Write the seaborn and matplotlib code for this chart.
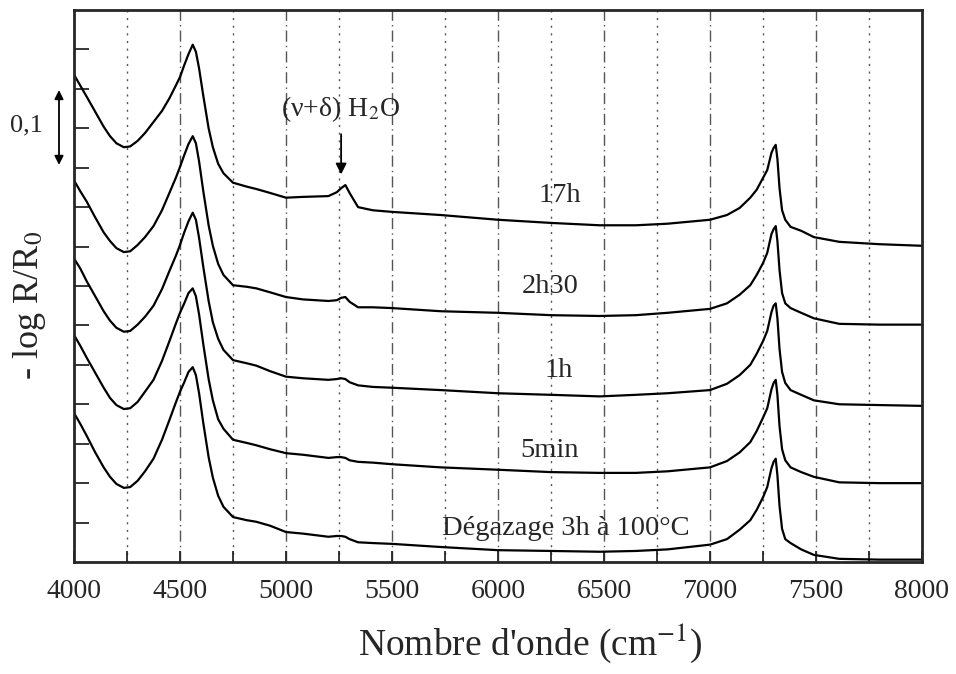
# -*- coding: utf-8 -*-

import numpy as np
import pandas as pd
import matplotlib
matplotlib.use('Agg')
import matplotlib.pyplot as plt
import seaborn as sns


#Plot parameters
sns.set_style('ticks')
plt.rcParams['font.family'] = ['Liberation Serif', 'DejaVu Serif']
plt.rcParams['mathtext.fontset'] = 'stix'


#Data (-log R/R0, curves already offset)
wavenumber = [4000, 4030, 4060, 4100, 4140, 4170, 4200, 4235, 4265, 4300,
              4335, 4375, 4415, 4450, 4480, 4500, 4520, 4540, 4560, 4575,
              4590, 4610, 4635, 4655, 4680, 4705, 4750, 4815, 4860, 4925,
              5000, 5080, 5200, 5240, 5260, 5280, 5300, 5340, 5410, 5500,
              5730, 6000, 6250, 6480, 6650, 6800, 7000, 7080, 7140, 7190,
              7220, 7250, 7270, 7290, 7300, 7310, 7318, 7328, 7340, 7355,
              7380, 7430, 7490, 7610, 7800, 8000]

h17 = [0.618, 0.604, 0.590, 0.571, 0.552, 0.540, 0.531, 0.526, 0.527, 0.534,
       0.544, 0.558, 0.572, 0.588, 0.604, 0.615, 0.630, 0.644, 0.656, 0.647,
       0.626, 0.591, 0.550, 0.526, 0.505, 0.493, 0.481, 0.476, 0.473, 0.468,
       0.462, 0.463, 0.464, 0.469, 0.474, 0.478, 0.468, 0.450, 0.446, 0.444,
       0.440, 0.434, 0.430, 0.427, 0.427, 0.429, 0.434, 0.440, 0.449, 0.462,
       0.472, 0.487, 0.497, 0.519, 0.525, 0.529, 0.511, 0.474, 0.446, 0.434,
       0.425, 0.420, 0.412, 0.406, 0.403, 0.401]

h2_30 = [0.484, 0.470, 0.457, 0.437, 0.418, 0.407, 0.398, 0.393, 0.394, 0.402,
         0.412, 0.426, 0.446, 0.468, 0.487, 0.501, 0.516, 0.530, 0.540, 0.531,
         0.508, 0.470, 0.427, 0.401, 0.378, 0.364, 0.351, 0.349, 0.347, 0.342,
         0.336, 0.333, 0.331, 0.332, 0.335, 0.336, 0.330, 0.323, 0.323, 0.322,
         0.318, 0.316, 0.313, 0.312, 0.313, 0.316, 0.321, 0.328, 0.339, 0.351,
         0.364, 0.379, 0.392, 0.416, 0.422, 0.426, 0.407, 0.370, 0.341, 0.328,
         0.322, 0.316, 0.309, 0.302, 0.301, 0.301]

h1 = [0.385, 0.372, 0.356, 0.337, 0.318, 0.306, 0.297, 0.292, 0.293, 0.301,
      0.311, 0.325, 0.346, 0.369, 0.388, 0.402, 0.418, 0.432, 0.443, 0.434,
      0.411, 0.374, 0.331, 0.304, 0.283, 0.269, 0.256, 0.252, 0.249, 0.242,
      0.235, 0.233, 0.231, 0.232, 0.233, 0.232, 0.228, 0.224, 0.222, 0.221,
      0.218, 0.214, 0.212, 0.210, 0.212, 0.214, 0.218, 0.226, 0.237, 0.250,
      0.264, 0.280, 0.293, 0.317, 0.325, 0.328, 0.309, 0.270, 0.241, 0.227,
      0.218, 0.212, 0.205, 0.200, 0.199, 0.198]

min5 = [0.288, 0.274, 0.259, 0.240, 0.221, 0.208, 0.199, 0.194, 0.195, 0.203,
        0.216, 0.231, 0.255, 0.280, 0.302, 0.316, 0.328, 0.341, 0.347, 0.337,
        0.314, 0.276, 0.232, 0.205, 0.181, 0.169, 0.155, 0.151, 0.148, 0.143,
        0.138, 0.136, 0.132, 0.133, 0.133, 0.132, 0.129, 0.127, 0.126, 0.124,
        0.120, 0.117, 0.114, 0.113, 0.113, 0.115, 0.120, 0.128, 0.139, 0.152,
        0.166, 0.183, 0.195, 0.219, 0.227, 0.231, 0.212, 0.172, 0.143, 0.129,
        0.120, 0.114, 0.108, 0.101, 0.100, 0.100]

degazage = [0.189, 0.175, 0.160, 0.139, 0.120, 0.108, 0.099, 0.094, 0.095, 0.103,
            0.115, 0.131, 0.155, 0.180, 0.202, 0.216, 0.228, 0.241, 0.247, 0.237,
            0.214, 0.176, 0.133, 0.107, 0.084, 0.070, 0.057, 0.053, 0.051, 0.046,
            0.038, 0.036, 0.032, 0.033, 0.033, 0.032, 0.029, 0.025, 0.024, 0.023,
            0.019, 0.015, 0.014, 0.013, 0.014, 0.016, 0.022, 0.029, 0.041, 0.053,
            0.066, 0.082, 0.095, 0.119, 0.127, 0.131, 0.110, 0.071, 0.042, 0.029,
            0.024, 0.016, 0.009, 0.004, 0.003, 0.003]

curves = {'17h': h17, '2h30': h2_30, '1h': h1, '5min': min5,
          'Dégazage 3h à 100°C': degazage}


#Figure
fig = plt.figure(figsize=(9.56, 6.74), dpi=100)
ax = fig.add_axes([74/956, 112/674, 848/956, 552/674])

for name, vals in curves.items():
    sns.lineplot(x=wavenumber, y=vals, color='black', lw=1.6, ax=ax)

ax.set_xlim(4000, 8000)
ax.set_ylim(0, 0.7)
ax.set_xticks(np.arange(4000, 8001, 500))
ax.set_xticks(np.arange(4250, 8000, 500), minor=True)
ax.set_yticks(np.arange(0.05, 0.70, 0.05))
ax.set_yticklabels([])
ax.tick_params(axis='x', which='both', direction='in', length=8, width=1.3,
               labelsize=20, pad=12, top=False)
ax.tick_params(axis='y', direction='in', length=11, width=1.3, right=False)
for sp in ax.spines.values():
    sp.set_linewidth(2)

#grid: dash-dot at 500, dotted at 250
for xv in np.arange(4500, 8000, 500):
    ax.axvline(xv, color='#555555', lw=1.0, ls=(0, (8, 3, 1, 3)), zorder=0)
for xv in np.arange(4250, 8000, 500):
    ax.axvline(xv, color='#555555', lw=1.0, ls=(0, (1.5, 4)), zorder=0)

#curve labels
lab_pos = {'17h': (6290, 0.465), '2h30': (6245, 0.349), '1h': (6285, 0.243),
           '5min': (6245, 0.142), 'Dégazage 3h à 100°C': (6320, 0.043)}
for name, (xx, yy) in lab_pos.items():
    ax.text(xx, yy, name, ha='center', va='center', fontsize=20.5)

#water band
ax.text(5255, 0.574, '(ν+δ) H$_2$O', ha='center', va='center', fontsize=20)
ax.annotate('', xy=(5260, 0.488), xytext=(5260, 0.546),
            arrowprops=dict(arrowstyle='-|>', color='black', lw=1.3,
                            mutation_scale=16))

#scale bar
ax.annotate('', xy=(-0.0177, 0.500), xytext=(-0.0177, 0.602),
            xycoords=ax.get_yaxis_transform(), textcoords=ax.get_yaxis_transform(),
            arrowprops=dict(arrowstyle='<|-|>', color='black', lw=1.3,
                            mutation_scale=13), annotation_clip=False)
ax.text(-0.056, 0.553, '0,1', transform=ax.get_yaxis_transform(),
        ha='center', va='center', fontsize=19)

fig.text(530/956, 1 - 643/674, "Nombre d'onde (cm$^{-1}$)", ha='center',
         va='center', fontsize=27)
fig.text(30/956, 1 - 305/674, '- log R/R$_0$', ha='center', va='center',
         rotation=90, fontsize=26)

fig.savefig('out.png', dpi=100)
